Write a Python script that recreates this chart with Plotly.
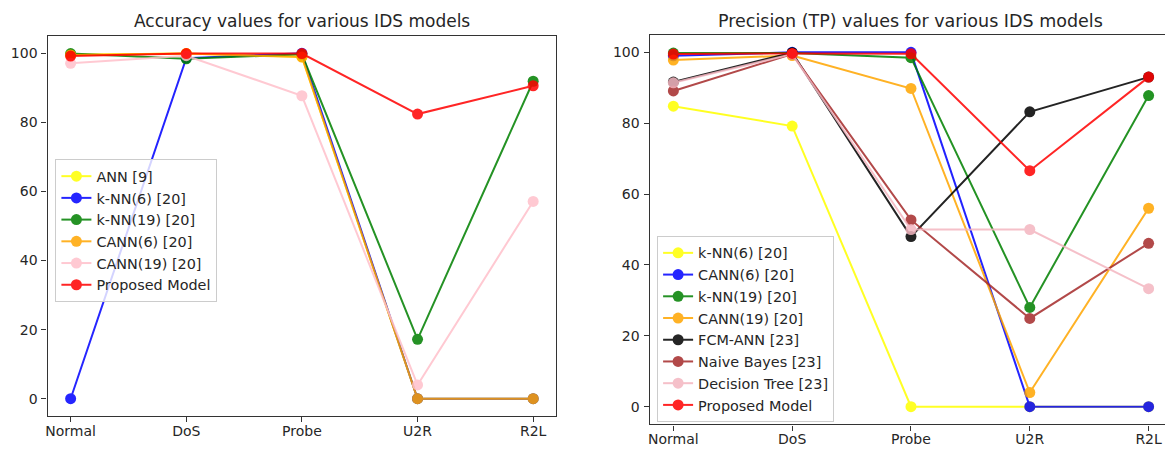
import plotly.graph_objects as go

categories = ["Normal", "DoS", "Probe", "U2R", "R2L"]
y_ticks = [0, 20, 40, 60, 80, 100]

# Left chart: Accuracy
acc_names = ["ANN [9]", "k-NN(6) [20]", "k-NN(19) [20]", "CANN(6) [20]", "CANN(19) [20]", "Proposed Model"]
acc_ann = [99.6, 99.9, 99.0, 0.0, 0.0]
acc_knn6 = [0.0, 98.6, 100.0, 0.0, 0.0]
acc_knn19 = [99.9, 98.4, 99.7, 17.2, 91.9]
acc_cann6 = [99.5, 99.9, 98.9, 0.0, 0.0]
acc_cann19 = [97.1, 99.3, 87.7, 4.0, 57.1]
acc_proposed = [99.2, 99.9, 99.9, 82.4, 90.6]
acc_values = [acc_ann, acc_knn6, acc_knn19, acc_cann6, acc_cann19, acc_proposed]
acc_colors = ["#ffff00", "#0000ff", "#008000", "#ffa500", "#ffc0cb", "#ff0000"]

# Right chart: Precision (TP)
pre_names = ["k-NN(6) [20]", "CANN(6) [20]", "k-NN(19) [20]", "CANN(19) [20]", "FCM-ANN [23]",
             "Naive Bayes [23]", "Decision Tree [23]", "Proposed Model"]
pre_knn6 = [84.8, 79.2, 0.0, 0.0, 0.0]
pre_cann6 = [99.0, 100.0, 100.0, 0.0, 0.0]
pre_knn19 = [99.8, 99.8, 98.5, 28.0, 87.8]
pre_cann19 = [97.8, 99.1, 89.8, 4.0, 56.0]
pre_fcm = [91.6, 99.9, 48.0, 83.2, 93.0]
pre_nb = [89.1, 99.5, 52.7, 24.9, 46.1]
pre_dt = [91.4, 99.5, 50.0, 50.0, 33.3]
pre_proposed = [99.5, 99.7, 99.6, 66.6, 93.0]
pre_values = [pre_knn6, pre_cann6, pre_knn19, pre_cann19, pre_fcm, pre_nb, pre_dt, pre_proposed]
pre_colors = ["#ffff00", "#0000ff", "#008000", "#ffa500", "#000000", "#a52a2a", "#f4b6c0", "#ff0000"]

title_left = "Accuracy values for various IDS models"
title_right = "Precision (TP) values for various IDS models"

W, H = 1165, 450
TXT = "#262626"
FONT = "DejaVu Sans"

fig = go.Figure()

for name, vals, col in zip(acc_names, acc_values, acc_colors):
    fig.add_trace(go.Scatter(
        x=categories, y=vals, name=name, mode="lines+markers",
        line=dict(color=col, width=2), marker=dict(color=col, size=11),
        opacity=0.85, xaxis="x", yaxis="y", legend="legend"))

for name, vals, col in zip(pre_names, pre_values, pre_colors):
    fig.add_trace(go.Scatter(
        x=categories, y=vals, name=name, mode="lines+markers",
        line=dict(color=col, width=2), marker=dict(color=col, size=11),
        opacity=0.85, xaxis="x2", yaxis="y2", legend="legend2"))

axis_common = dict(showline=True, linecolor="#333333", linewidth=1.2, ticks="outside",
                   ticklen=5, tickwidth=1, tickcolor="#333333", showgrid=False, zeroline=False,
                   tickfont=dict(family=FONT, size=14, color=TXT), automargin=False)

l_x0, l_x1 = 47.5 / W, 556.3 / W
r_x0 = 649.6 / W
l_y0, l_y1 = (H - 416) / H, (H - 36) / H
r_y0, r_y1 = (H - 424.4) / H, (H - 34.6) / H

fig.update_layout(
    width=W, height=H, margin=dict(l=0, r=0, t=0, b=0),
    paper_bgcolor="white", plot_bgcolor="white",
    font=dict(family=FONT, color=TXT),
    xaxis=dict(domain=[l_x0, l_x1], type="category", categoryorder="array",
               categoryarray=categories, range=[-0.2, 4.2], mirror=True, anchor="y",
               ticklabelstandoff=-3, **axis_common),
    yaxis=dict(domain=[l_y0, l_y1], range=[-5, 105], tickvals=y_ticks, mirror=True,
               anchor="x", ticklabelstandoff=1, **axis_common),
    xaxis2=dict(domain=[r_x0, 1.0], type="category", categoryorder="array",
                categoryarray=categories, range=[-0.2, 4.138], mirror=True, anchor="y2",
                ticklabelstandoff=-3, **axis_common),
    yaxis2=dict(domain=[r_y0, r_y1], range=[-5, 105], tickvals=y_ticks, mirror=False,
                anchor="x2", ticklabelstandoff=1, **axis_common),
    legend=dict(x=55.4 / W, y=(H - 159.3) / H, xanchor="left", yanchor="top",
                bgcolor="rgba(255,255,255,0.8)", bordercolor="#cccccc", borderwidth=1,
                font=dict(family=FONT, size=14.4, color=TXT)),
    legend2=dict(x=657.1 / W, y=(H - 236) / H, xanchor="left", yanchor="top",
                 bgcolor="rgba(255,255,255,0.8)", bordercolor="#cccccc", borderwidth=1,
                 font=dict(family=FONT, size=14.4, color=TXT)),
    annotations=[
        dict(text=title_left, x=(l_x0 + l_x1) / 2, y=(H - 21) / H, xref="paper", yref="paper",
             xanchor="center", yanchor="middle", showarrow=False,
             font=dict(family=FONT, size=17, color=TXT)),
        dict(text=title_right, x=(r_x0 + 1171.7 / W) / 2, y=(H - 20.5) / H, xref="paper",
             yref="paper", xanchor="center", yanchor="middle", showarrow=False,
             font=dict(family=FONT, size=17.5, color=TXT)),
    ],
)

fig.write_html("out.html", config={"displayModeBar": False},
               post_script="document.body.style.margin='0';document.body.style.overflow='hidden';")
